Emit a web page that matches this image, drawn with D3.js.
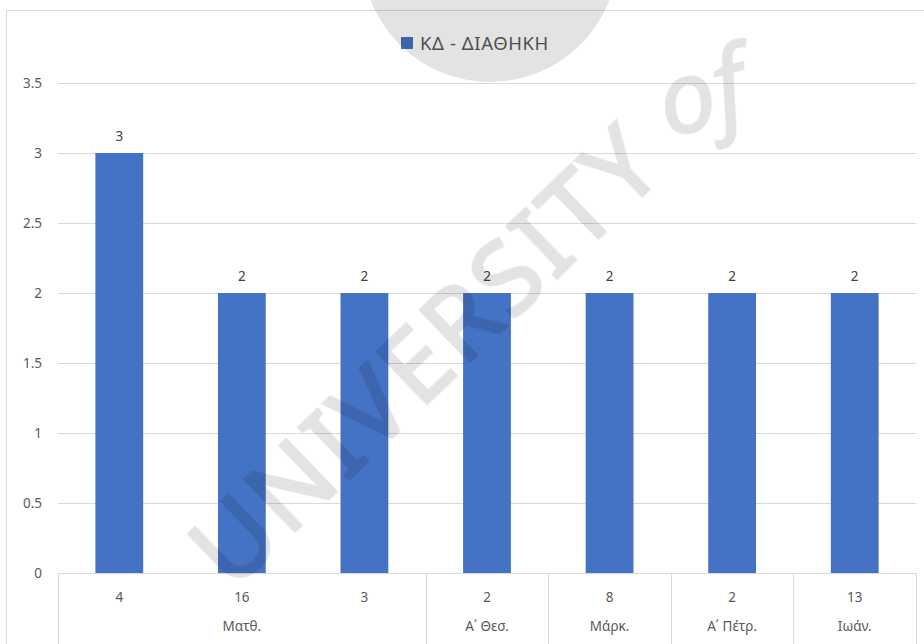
<!DOCTYPE html>
<html>
<head>
<meta charset="utf-8">
<script src="https://cdn.jsdelivr.net/npm/d3@7"></script>
<style>
  html, body { margin: 0; padding: 0; background: #fff; }
  svg text { font-family: "Noto Sans", "Open Sans", sans-serif; }
</style>
</head>
<body>
<svg id="chart" width="924" height="644"></svg>
<script>
// data
const chapters = ["4", "16", "3", "2", "8", "2", "13"];
const books    = ["Ματθ.", "Ματθ.", "Ματθ.", "Α΄ Θεσ.", "Μάρκ.", "Α΄ Πέτρ.", "Ιωάν."];
const values   = [3, 2, 2, 2, 2, 2, 2];
const yTicks   = [0, 0.5, 1, 1.5, 2, 2.5, 3, 3.5];
const seriesName = "ΚΔ - ΔΙΑΘΗΚΗ";

const svg = d3.select("#chart");
const m = { top: 83, right: 8, bottom: 71, left: 58 };
const W = 924, H = 644;
const w = W - m.left - m.right, h = H - m.top - m.bottom;
const grid = "#d9d9d9", txt = "#595959", blue = "#4472c4";

// chart frame
svg.append("rect")
    .attr("x", 6.5).attr("y", 10.5)
    .attr("width", 940).attr("height", 700)
    .attr("fill", "#fff").attr("stroke", grid);

const g = svg.append("g").attr("transform", `translate(${m.left},${m.top})`);

const idx = d3.range(values.length);
const x = d3.scaleBand().domain(idx).range([0, w]).paddingInner(0.61).paddingOuter(0.305);
const step = x.step();
const y = d3.scaleLinear().domain([0, 3.5]).range([h, 0]);

// gridlines + y labels
g.selectAll("line.grid")
    .data(yTicks)
    .join("line").attr("class", "grid")
    .attr("x1", 0).attr("x2", w)
    .attr("y1", d => Math.round(y(d)) + 0.5).attr("y2", d => Math.round(y(d)) + 0.5)
    .attr("stroke", grid);

g.selectAll("text.ytick")
    .data(yTicks)
    .join("text").attr("class", "ytick")
    .attr("x", -16).attr("y", d => y(d))
    .attr("dy", "0.36em")
    .attr("text-anchor", "end")
    .attr("font-size", 13.5).attr("fill", txt)
    .text(d => d);

// bars
g.selectAll("rect.bar")
    .data(values)
    .join("rect").attr("class", "bar")
    .attr("x", (d, i) => x(i)).attr("width", x.bandwidth())
    .attr("y", d => y(d)).attr("height", d => h - y(d))
    .attr("fill", blue);

g.selectAll("text.val")
    .data(values)
    .join("text").attr("class", "val")
    .attr("x", (d, i) => x(i) + x.bandwidth() / 2)
    .attr("y", d => y(d) - 12)
    .attr("text-anchor", "middle")
    .attr("font-size", 13.5).attr("fill", "#404040")
    .text(d => d);

// multi-level category axis
const ax = g.append("g").attr("transform", `translate(0,${h})`);
ax.selectAll("text.cat")
    .data(chapters)
    .join("text").attr("class", "cat")
    .attr("x", (d, i) => x(i) + x.bandwidth() / 2)
    .attr("y", 24).attr("dy", "0.36em")
    .attr("text-anchor", "middle")
    .attr("font-size", 13.5).attr("fill", txt)
    .text(d => d);

// groups of consecutive books
const groups = [];
books.forEach((b, i) => {
    const last = groups[groups.length - 1];
    if (last && last.name === b) last.end = i;
    else groups.push({ name: b, start: i, end: i });
});

ax.selectAll("text.grp")
    .data(groups)
    .join("text").attr("class", "grp")
    .attr("x", d => (d.start + d.end + 1) / 2 * step)
    .attr("y", 53).attr("dy", "0.36em")
    .attr("text-anchor", "middle")
    .attr("font-size", 13.5).attr("fill", txt)
    .text(d => d.name);

const edges = [0].concat(groups.map(d => (d.end + 1) * step));
ax.selectAll("line.sep")
    .data(edges)
    .join("line").attr("class", "sep")
    .attr("x1", d => Math.round(d) + 0.5).attr("x2", d => Math.round(d) + 0.5)
    .attr("y1", 0).attr("y2", 80)
    .attr("stroke", grid);

// legend
const lg = svg.append("g").attr("transform", "translate(401,37)");
lg.append("rect").attr("width", 12).attr("height", 12).attr("fill", blue);
lg.append("text")
    .attr("x", 19).attr("y", 6).attr("dy", "0.36em")
    .attr("font-size", 18.5).attr("letter-spacing", 0.6).attr("fill", txt)
    .text(seriesName);

// faint watermark over everything
const wm = svg.append("g").attr("pointer-events", "none")
    .attr("fill", "#000").attr("stroke", "#000").attr("opacity", 0.11);
wm.append("circle").attr("cx", 490).attr("cy", -46).attr("r", 128).attr("stroke", "none");
wm.append("text")
    .attr("transform", "translate(232,592) rotate(-44)")
    .attr("font-family", "Liberation Sans, Arial, sans-serif")
    .attr("font-size", 101)
    .attr("letter-spacing", 4)
    .attr("stroke-width", 3)
    .text("UNIVERSITY");
wm.append("text")
    .attr("transform", "translate(668,138) rotate(-15)")
    .attr("font-family", "Liberation Serif, serif")
    .attr("font-style", "italic")
    .attr("font-size", 100)
    .attr("stroke-width", 2)
    .text("of");
</script>
</body>
</html>
